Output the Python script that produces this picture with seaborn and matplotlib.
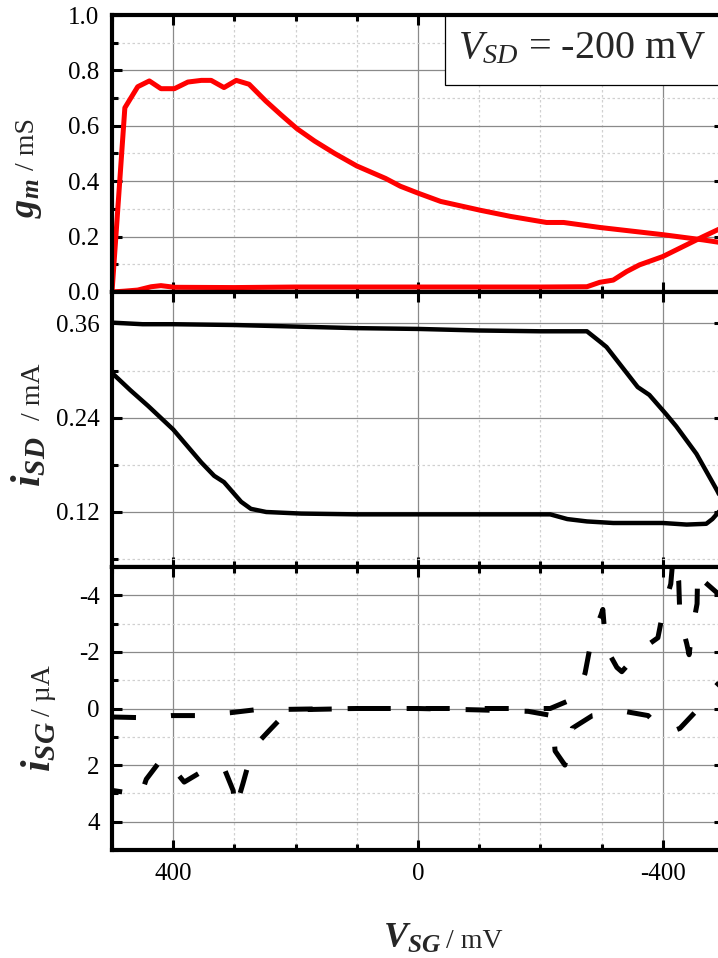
import matplotlib
matplotlib.use("Agg")
import matplotlib.pyplot as plt
import seaborn as sns
from matplotlib.ticker import MultipleLocator, FixedLocator, FormatStrFormatter
from matplotlib.patches import Rectangle

# ---------------- data ----------------
# transconductance g_m (mS)
vsg_gm_fwd = [500, 479, 458, 439, 420, 398, 376, 354, 338, 317, 297, 276, 249, 224,
              198, 169, 136, 100, 53, 29, 0, -37, -102, -151, -210, -238, -297, -400,
              -466, -490, -500]
gm_fwd = [0.0, 0.665, 0.741, 0.762, 0.734, 0.734, 0.758, 0.764, 0.764, 0.738, 0.764,
          0.75, 0.69, 0.64, 0.59, 0.545, 0.50, 0.455, 0.41, 0.382, 0.357, 0.327, 0.295,
          0.273, 0.251, 0.251, 0.233, 0.207, 0.188, 0.18, 0.176]
vsg_gm_bwd = [-500, -490, -466, -422, -400, -362, -341, -319, -297, -276, -200, -100, 0,
              100, 200, 300, 398, 420, 436, 458, 480, 500]
gm_bwd = [0.235, 0.225, 0.20, 0.152, 0.128, 0.098, 0.074, 0.043, 0.035, 0.019, 0.018,
          0.018, 0.018, 0.018, 0.018, 0.016, 0.017, 0.023, 0.019, 0.007, 0.003, 0.0]

# source-drain current i_SD (mA)
vsg_isd_fwd = [500, 450, 400, 300, 200, 100, 0, -100, -200, -276, -297, -308, -341, -359,
               -378, -406, -422, -455, -489, -500]
isd_fwd = [0.361, 0.359, 0.359, 0.358, 0.356, 0.354, 0.353, 0.351, 0.350, 0.350, 0.337,
           0.330, 0.297, 0.279, 0.269, 0.244, 0.229, 0.194, 0.147, 0.13]
vsg_isd_bwd = [-500, -489, -481, -471, -439, -400, -319, -276, -244, -216, -134, 0, 100,
               191, 248, 273, 289, 317, 333, 354, 400, 441, 470, 500]
isd_bwd = [0.128, 0.118, 0.111, 0.105, 0.104, 0.106, 0.106, 0.108, 0.111, 0.117, 0.117,
           0.117, 0.117, 0.118, 0.120, 0.124, 0.133, 0.158, 0.166, 0.183, 0.225, 0.255,
           0.275, 0.297]

# gate current i_SG (uA)
vsg_isg_a = [500, 459, 430, 403, 364, 307, 268, 211, 183, 100, 0, -100, -180, -219, -224,
             -240, -252, -285, -337, -376, -405, -428, -465, -485, -500]
isg_a = [0.3, 0.32, 0.3, 0.25, 0.25, 0.15, 0.05, 0.03, 0.02, 0.0, 0.0, 0.05, 0.1, 0.25,
         1.5, 2.0, 0.7, 0.25, 0.1, 0.25, 0.9, 0.7, -0.15, -0.75, -1.1]
vsg_isg_b = [498, 467, 455, 444, 416, 382, 351, 335, 318, 302, 299, 286, 270, 244, 211,
             100, 0, -100, -216, -260, -273, -284, -299, -302, -307, -325, -333, -366,
             -392, -402, -413, -417, -426, -428, -439, -443, -447, -456, -457, -459,
             -488, -500]
isg_b = [2.9, 3.0, 3.2, 2.5, 1.7, 2.6, 2.2, 1.9, 2.05, 2.9, 3.6, 2.65, 1.4, 0.8, 0.05,
         0.0, 0.0, 0.0, 0.0, -0.4, -1.25, -2.5, -3.3, -3.5, -2.15, -1.45, -1.3, -2.1,
         -2.5, -3.6, -4.4, -5.4, -4.5, -3.2, -2.3, -1.9, -2.65, -3.7, -4.9, -4.65,
         -4.1, -3.9]

x_ticks = [400, 0, -400]
annotation = r'$V_{SD}$ = -200 mV'

# ---------------- style ----------------
sns.set_theme(style="white")
plt.rcParams['font.family'] = ['Liberation Serif', 'DejaVu Serif']
plt.rcParams['mathtext.fontset'] = 'custom'
plt.rcParams['mathtext.rm'] = 'Liberation Serif'
plt.rcParams['mathtext.it'] = 'Liberation Serif:italic'
plt.rcParams['mathtext.bf'] = 'Liberation Serif:bold'
plt.rcParams['mathtext.bfit'] = 'Liberation Serif:bold:italic'
plt.rcParams['axes.unicode_minus'] = False

W, H = 718, 958
fig = plt.figure(figsize=(W / 100, H / 100), dpi=100)


def px_axes(x0, y0, x1, y1):
    return fig.add_axes([x0 / W, 1 - y1 / H, (x1 - x0) / W, (y1 - y0) / H])


ax1 = px_axes(112, 15, 724, 292)
ax2 = px_axes(112, 292, 724, 567)
ax3 = px_axes(112, 567, 724, 850)

RED = '#ff0000'
sns.lineplot(x=vsg_gm_fwd, y=gm_fwd, sort=False, estimator=None, color=RED, lw=3.6, ax=ax1)
sns.lineplot(x=vsg_gm_bwd, y=gm_bwd, sort=False, estimator=None, color=RED, lw=3.6, ax=ax1)
sns.lineplot(x=vsg_isd_fwd, y=isd_fwd, sort=False, estimator=None, color='black', lw=3.2, ax=ax2)
sns.lineplot(x=vsg_isd_bwd, y=isd_bwd, sort=False, estimator=None, color='black', lw=3.2, ax=ax2)
sns.lineplot(x=vsg_isg_a, y=isg_a, sort=False, estimator=None, color='black', lw=3.6,
             linestyle=(0, (4.8, 7.0)), ax=ax3)
sns.lineplot(x=vsg_isg_b, y=isg_b, sort=False, estimator=None, color='black', lw=3.6,
             linestyle=(3, (4.8, 7.0)), ax=ax3)

for ax in (ax1, ax2, ax3):
    ax.set_xlim(500, -500)
    ax.xaxis.set_major_locator(FixedLocator(x_ticks))
    ax.xaxis.set_minor_locator(MultipleLocator(100))
    ax.grid(True, which='major', color='#8a8a8a', lw=0.9)
    ax.grid(True, which='minor', color='#d0d0d0', lw=0.9, ls=(0, (2, 2)))
    ax.set_axisbelow(True)
    for s in ax.spines.values():
        s.set_visible(True)
        s.set_linewidth(3)
        s.set_color('black')
        s.set_zorder(6)
    ax.tick_params(which='both', direction='in', top=True, right=True, bottom=True,
                   left=True, colors='black', width=2.2)
    ax.tick_params(which='major', length=7.5)
    ax.tick_params(which='minor', length=4)
    ax.tick_params(axis='both', which='major', labelsize=18, pad=9)
    ax.set_xlabel('')
    ax.set_ylabel('')

ax1.set_ylim(0, 1)
ax1.yaxis.set_major_locator(MultipleLocator(0.2))
ax1.yaxis.set_minor_locator(MultipleLocator(0.1))
ax1.yaxis.set_major_formatter(FormatStrFormatter('%.1f'))

ax2.set_ylim(0.05, 0.40)
ax2.yaxis.set_major_locator(FixedLocator([0.12, 0.24, 0.36]))
ax2.yaxis.set_minor_locator(FixedLocator([0.06, 0.18, 0.30]))
ax2.yaxis.set_major_formatter(FormatStrFormatter('%.2f'))

ax3.set_ylim(5, -5)
ax3.yaxis.set_major_locator(MultipleLocator(2))
ax3.yaxis.set_minor_locator(MultipleLocator(1))

ax1.tick_params(axis='x', labelbottom=False)
ax2.tick_params(axis='x', labelbottom=False)

# annotation box
ax1.add_patch(Rectangle((0.5441, 0.7473), 0.5, 0.2527, transform=ax1.transAxes,
                        facecolor='white', edgecolor='black', lw=0.9, zorder=5,
                        clip_on=False))
ax1.text(0.5654, 0.845, annotation, transform=ax1.transAxes, fontsize=29,
         ha='left', va='baseline', zorder=7)


def ylab(x, y, s, size, ha):
    fig.text(x / W, 1 - y / H, s, rotation=90, rotation_mode='anchor', ha=ha,
             va='baseline', fontsize=size)


ylab(34, 218, r'$\mathbfit{g}_{\mathbfit{m}}$', 26, 'left')
ylab(34, 170, '/ mS', 20, 'left')
ylab(40, 487, r'$\mathbfit{i}_{\mathbfit{SD}}$', 30, 'left')
ylab(40, 420, '/ mA', 20, 'left')
ylab(50, 772, r'$\mathbfit{i}_{\mathbfit{SG}}$', 30, 'left')
ylab(50, 716, '/ µA', 20, 'left')

fig.text(383 / W, 1 - 948 / H, r'$\mathbfit{V}_{\mathbfit{SG}}$', fontsize=26,
         ha='left', va='baseline')
fig.text(446 / W, 1 - 948 / H, '/ mV', fontsize=20, ha='left', va='baseline')

fig.savefig('out.png', dpi=100)
